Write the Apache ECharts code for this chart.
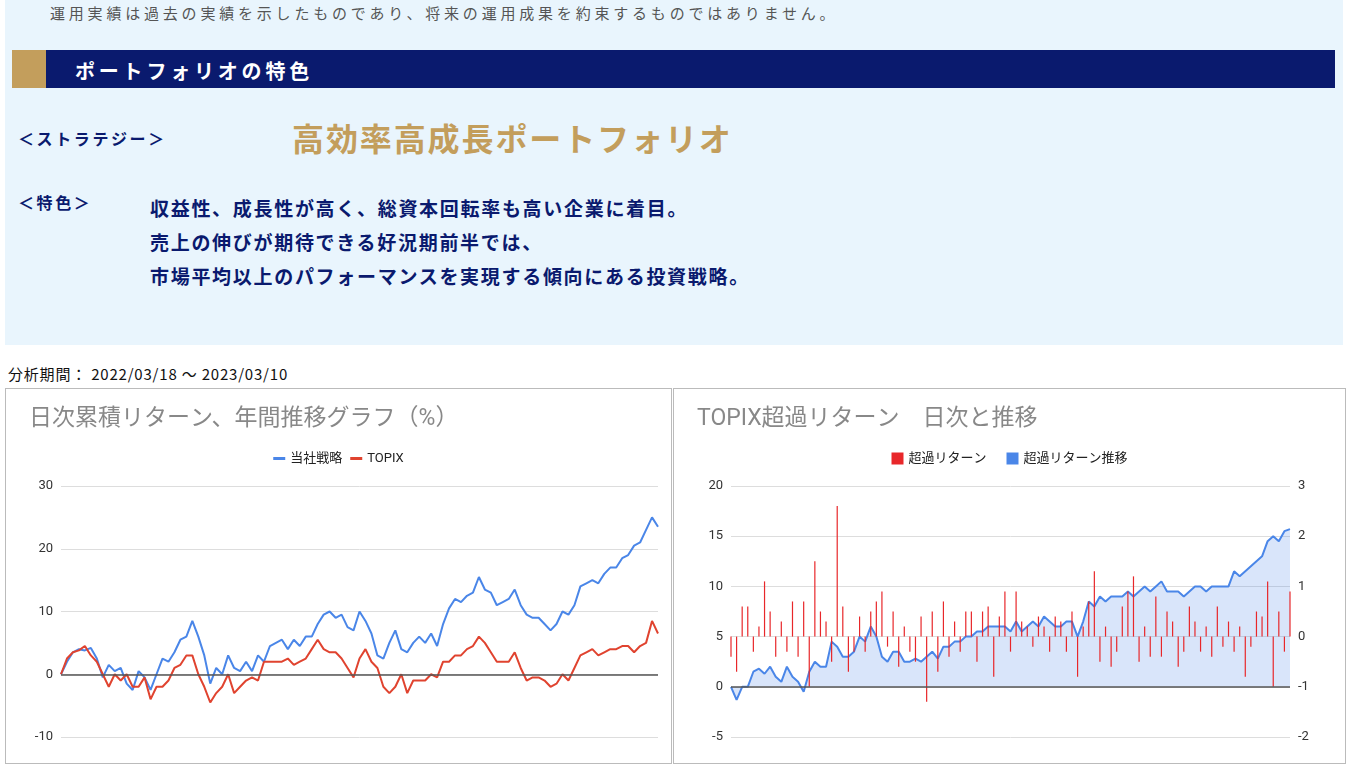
<!DOCTYPE html>
<html><head><meta charset="utf-8">
<script src="https://cdn.jsdelivr.net/npm/echarts@6/dist/echarts.min.js"></script>
<style>
body{margin:0;width:1351px;height:773px;background:#fff;font-family:"Noto Sans CJK JP","Noto Sans",sans-serif;position:relative;overflow:hidden}
.abs{position:absolute;white-space:nowrap}
#panel{position:absolute;left:5px;top:0;width:1338px;height:345px;background:#e9f5fd}
#banner{position:absolute;left:12px;top:50px;width:1323px;height:38px;background:#0a1a6e}
#gold{position:absolute;left:12px;top:50px;width:34px;height:38px;background:#c39e5c}
.box{position:absolute;top:388px;height:376px;border:1px solid #bbb;box-sizing:border-box}
.navy{color:#0a1a6e;font-weight:bold}
</style></head><body>
<div id="panel"></div>
<div class="abs" style="left:50px;top:2px;font-size:15px;letter-spacing:3.8px;color:#555">運用実績は過去の実績を示したものであり、将来の運用成果を約束するものではありません。</div>
<div id="banner"></div><div id="gold"></div>
<div class="abs" style="left:75px;top:56px;font-size:20px;letter-spacing:3.8px;color:#fff;font-weight:bold">ポートフォリオの特色</div>
<div class="abs navy" style="left:18px;top:126px;font-size:16px;letter-spacing:2.6px">＜ストラテジー＞</div>
<div class="abs" style="left:292px;top:114px;font-size:32px;letter-spacing:1.9px;color:#c39e5c;font-weight:bold">高効率高成長ポートフォリオ</div>
<div class="abs navy" style="left:18px;top:190px;font-size:16px;letter-spacing:2.6px">＜特色＞</div>
<div class="abs navy" style="left:150px;top:191px;font-size:19px;letter-spacing:1.7px;line-height:34px">収益性、成長性が高く、総資本回転率も高い企業に着目。<br>売上の伸びが期待できる好況期前半では、<br>市場平均以上のパフォーマンスを実現する傾向にある投資戦略。</div>
<div class="abs" style="left:8px;top:363px;font-size:15px;letter-spacing:0.8px;color:#111">分析期間： 2022/03/18 〜 2023/03/10</div>
<div id="c1" class="box" style="left:5px;width:667px"></div>
<div id="c2" class="box" style="left:673px;width:673px"></div>
<script>
var ourStrategy = [0,2,3.5,4,3.8,4.2,2.5,-0.5,1.5,0.5,1,-1.5,-2.5,0.5,-0.5,-2.5,0,2.5,2,3.5,5.5,6,8.5,6,3,-1.5,1,0,3,1,0.5,2,0.5,3,2,4.5,5,5.5,4,5.5,4.5,6,6,8,9.5,10,9,9.5,7.5,7,10,8.5,6.5,3,2.5,5,7,4,3.5,5,6,5,6.5,4.5,8,10.5,12,11.5,12.5,13,15.5,13.5,13,11,11.5,12,13.5,11,9.5,9,9,8,7,8,10,9.5,11,14,14.5,15,14.5,16,17,17,18.5,19,20.5,21,23,25,23.5];
var topix = [0,2.5,3.5,3.8,4.5,3,2,0,-2,0,-1,0,-2,-2,-0.5,-4,-2,-2,-1,1,1.5,3,3,0,-2,-4.5,-3,-2,0,-3,-2,-1,-0.5,-1,2,2,2,2,2.5,1.5,2,2.5,4,5.5,4,3.5,3.5,2.5,1,-0.5,2.5,4,2,1,-2,-3,-2,0,-3,-1,-1,-1,0,-0.5,2,2,3,3,4,4.5,6,5,3.5,2,2,2,3.5,1,-1,-0.5,-0.5,-1,-2,-1.5,0,-1,1,3,3.5,4,3,3.5,4,4,4.5,4.5,3.5,4.5,5,8.5,6.5];
var excessTrend = [0,-1.3,0,0,1.5,1.8,1.3,2,1,0.5,2,1,0.5,-0.5,1.5,2.5,2,2,4.5,4,3,3,3.5,5,4.5,6,5,3,2.5,3.5,3.5,2.5,2.5,2.8,2.5,3,3.5,2.8,4,4,4.5,4.5,5,5,5.5,5.5,6,6,6,6,5.5,6.5,5.5,6,6.5,6,7,6.5,6,6,6.5,6.5,5,6.5,8.5,8,9,8.5,9,9,9,9.5,9,9.5,10,9.5,10,10.5,9.5,9.5,9.5,9,9.5,10,10,9.5,10,10,10,10,11.5,11,11.5,12,12.5,13,14.5,15,14.5,15.5,15.7];
var excessDaily = [-0.4,-0.7,0.6,0.6,-0.3,0.2,1.1,0.5,-0.4,0.3,-0.3,0.7,-0.4,0.7,-1,1.5,0.5,0.3,-0.5,2.6,0.6,-0.7,-0.3,0.4,-0.3,0.5,0.7,0.9,-0.2,0.5,-0.6,0.2,-0.3,-0.5,0.4,-1.3,0.5,-0.7,0.7,-0.4,0.3,-0.3,0.5,0.5,-0.5,0.5,0.6,-0.8,0.4,0.9,-0.3,0.9,0.3,0.2,-0.2,0.4,0.2,-0.3,0.4,0.3,-0.3,0.5,-0.8,0.2,0.7,1.3,-0.5,0.2,-0.6,-0.3,0.6,0.9,1.2,-0.5,0.2,-0.4,0.8,-0.4,0.5,0.3,-0.6,-0.3,0.6,0.3,-0.3,0.2,-0.4,0.6,-0.2,0.3,-0.3,0.2,-0.8,-0.2,0.5,0.4,1.1,-1,0.5,-0.3,0.9];
var days = ourStrategy.map(function(v, i){ return i; });

var font = 'Roboto, "Noto Sans CJK JP", sans-serif';
var chart1 = echarts.init(document.getElementById('c1'));
chart1.setOption({
    textStyle: {fontFamily: font},
    title: {text: '日次累積リターン、年間推移グラフ（%）', left: 18, top: 14, textStyle: {fontSize: 23, fontWeight: 'normal', color: '#888', fontFamily: font}},
    legend: {top: 58, left: 'center', itemWidth: 12, itemHeight: 3, textStyle: {fontSize: 13, color: '#222'}, icon: 'rect', data: ['当社戦略', 'TOPIX']},
    grid: {left: 55, right: 13, top: 97, bottom: 26},
    xAxis: {type: 'category', data: days, boundaryGap: false, show: false},
    yAxis: {type: 'value', min: -10, max: 30, interval: 10, axisLabel: {color: '#333', fontSize: 13},
        splitLine: {lineStyle: {color: '#ddd'}}},
    series: [
        {name: '当社戦略', type: 'line', data: ourStrategy, symbol: 'none', color: '#4a86e8', lineStyle: {width: 2},
            markLine: {silent: true, symbol: 'none', label: {show: false}, lineStyle: {color: '#555', type: 'solid', width: 1.5}, data: [{yAxis: 0}]}},
        {name: 'TOPIX', type: 'line', data: topix, symbol: 'none', color: '#e0432f', lineStyle: {width: 2}}
    ]
});

var chart2 = echarts.init(document.getElementById('c2'));
chart2.setOption({
    textStyle: {fontFamily: font},
    title: {text: 'TOPIX超過リターン　日次と推移', left: 18, top: 14, textStyle: {fontSize: 23, fontWeight: 'normal', color: '#888', fontFamily: font}},
    legend: {top: 58, left: 'center', itemWidth: 12, itemHeight: 12, icon: 'rect', itemGap: 20, textStyle: {fontSize: 13, color: '#222'}, data: ['超過リターン', '超過リターン推移']},
    grid: {left: 57, right: 55, top: 97, bottom: 26},
    xAxis: {type: 'category', data: days, boundaryGap: false, show: false},
    yAxis: [
        {type: 'value', min: -5, max: 20, interval: 5, axisLabel: {color: '#333', fontSize: 13}, splitLine: {lineStyle: {color: '#ddd'}}},
        {type: 'value', min: -2, max: 3, interval: 1, axisLabel: {color: '#333', fontSize: 13}, splitLine: {show: false}}
    ],
    series: [
        {name: '超過リターン推移', type: 'line', data: excessTrend, symbol: 'none', color: '#4a86e8', lineStyle: {width: 2},
            areaStyle: {color: 'rgba(74,134,232,0.3)'}, z: 1,
            markLine: {silent: true, symbol: 'none', label: {show: false}, lineStyle: {color: '#555', type: 'solid', width: 1.5}, data: [{yAxis: 0}]}},
        {name: '超過リターン', type: 'bar', yAxisIndex: 1, data: excessDaily, color: '#e8272a', barWidth: 1.2, z: 2}
    ]
});
</script>
</body></html>
